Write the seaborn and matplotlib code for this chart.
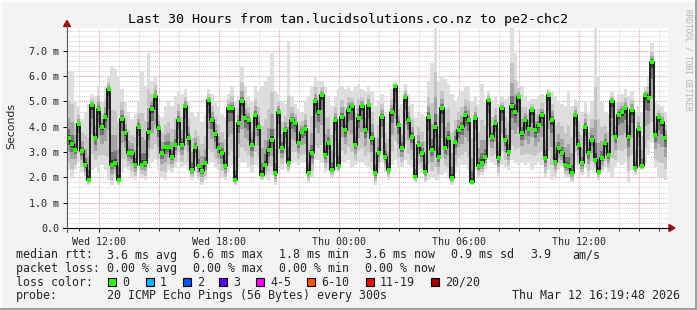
import numpy as np
import pandas as pd
import matplotlib
matplotlib.use("Agg")
import matplotlib.pyplot as plt
import seaborn as sns
from matplotlib.patches import Rectangle, Polygon
from matplotlib.lines import Line2D

# ---------------- data ----------------
start_hour = 10.4          # Wed 10:24, left edge of plot (hours since Wed 00:00)
step_hours = 1.0 / 6.0     # one column = 10 minutes

median_ms = [
    3.55, 3.3, 3.08, 4.1, 3.05, 2.5, 1.9, 4.85, 3.55, 4.7, 4.0, 4.4, 5.5, 2.5, 2.55,
    1.9, 4.3, 3.75, 2.95, 2.95, 2.5, 4.0, 2.5, 2.55, 3.8, 4.7, 5.2, 3.95, 2.95, 3.2,
    3.2, 2.82, 3.28, 4.27, 3.28, 4.8, 3.55, 2.3, 3.2, 2.43, 2.24, 2.55, 5.06, 4.27, 3.7,
    3.15, 2.95, 2.43, 4.73, 4.73, 1.9, 4.14, 5.0, 4.34, 4.27, 3.28, 4.46, 4.0, 2.1, 2.5,
    3.07, 3.48, 2.16, 4.6, 3.15, 3.87, 2.55, 4.27, 4.14, 3.35, 3.8, 3.93, 2.16, 2.95, 5.0,
    4.6, 5.26, 2.89, 3.35, 2.3, 4.27, 2.43, 4.4, 3.87, 4.66, 4.8, 3.28, 4.34, 4.8, 3.87,
    4.86, 3.55, 2.16, 2.95, 4.4, 2.82, 2.3, 4.6, 5.59, 4.07, 3.15, 5.19, 4.27, 3.61, 2.03,
    3.28, 2.95, 2.23, 4.4, 3.07, 4.0, 2.82, 4.73, 3.15, 3.55, 1.96, 3.41, 3.87, 4.0, 4.46,
    4.27, 1.83, 4.34, 2.43, 2.55, 2.82, 5.06, 3.61, 4.14, 2.75, 4.73, 3.48, 3.02, 4.8, 4.6,
    5.19, 3.74, 4.27, 3.93, 4.66, 3.87, 4.07, 4.46, 2.75, 5.26, 4.27, 2.62, 3.15, 2.95, 2.49,
    2.43, 2.16, 4.46, 3.28, 2.55, 4.0, 2.95, 3.48, 2.69, 2.23, 2.75, 3.35, 2.89, 5.0, 3.61,
    4.46, 4.6, 4.73, 3.61, 4.66, 2.36, 3.93, 2.43, 5.26, 5.13, 6.57, 3.68, 4.4, 4.2, 3.55,
]

smoke_low_ms = [
    2.3, 2.0, 2.3, 2.6, 2.2, 1.9, 1.7, 2.3, 2.4, 2.2, 2.5, 2.3, 1.9, 1.7, 2.0,
    1.7, 2.2, 2.4, 2.3, 2.0, 1.9, 2.3, 2.0, 1.9, 2.4, 2.6, 2.7, 2.3, 2.0, 1.9,
    2.3, 2.2, 2.4, 2.6, 2.4, 2.5, 2.3, 1.9, 2.2, 1.9, 1.7, 1.9, 2.5, 2.6, 2.4,
    2.3, 2.0, 1.9, 2.2, 2.5, 1.7, 2.3, 2.6, 2.6, 2.4, 2.2, 2.5, 2.4, 1.9, 2.0,
    1.9, 2.1, 1.7, 2.4, 2.3, 2.6, 2.2, 2.6, 2.6, 2.5, 2.6, 2.6, 1.8, 2.0, 2.7,
    2.7, 2.6, 2.2, 2.3, 2.0, 2.3, 2.2, 2.6, 2.6, 2.7, 2.4, 2.5, 2.6, 2.6, 2.5,
    2.4, 2.3, 1.7, 2.2, 2.6, 2.2, 1.9, 2.5, 2.7, 2.4, 2.4, 2.7, 2.5, 2.4, 1.8,
    2.3, 2.2, 1.8, 1.9, 2.0, 1.9, 1.9, 2.1, 2.2, 2.0, 1.7, 2.2, 2.4, 2.5, 2.5,
    2.3, 1.7, 2.3, 2.0, 2.1, 2.3, 2.7, 2.6, 2.5, 2.0, 2.5, 2.4, 2.3, 2.7, 2.6,
    2.5, 2.6, 2.5, 2.6, 2.3, 2.5, 2.6, 2.5, 2.0, 2.3, 1.9, 2.0, 2.3, 2.4, 2.0,
    2.0, 1.8, 2.5, 2.3, 2.1, 2.4, 2.0, 2.3, 2.3, 1.9, 2.2, 2.4, 2.2, 2.0, 2.4,
    2.6, 2.5, 2.6, 1.8, 2.3, 2.1, 2.4, 2.3, 2.5, 2.9, 3.4, 2.4, 2.0, 2.0, 1.9,
]

smoke_high_ms = [
    6.2, 6.2, 5.0, 4.8, 4.3, 4.6, 4.9, 5.3, 5.2, 5.6, 5.0, 5.6, 6.0, 6.4, 6.3,
    6.0, 5.5, 5.0, 4.6, 4.3, 4.5, 5.0, 6.2, 5.6, 6.9, 5.8, 6.0, 4.9, 4.4, 4.8,
    5.0, 4.8, 5.2, 5.4, 5.3, 5.5, 5.0, 4.6, 4.4, 4.6, 4.2, 4.5, 5.5, 5.3, 5.0,
    4.8, 4.5, 4.4, 5.3, 5.6, 5.0, 5.2, 6.4, 5.6, 5.2, 5.0, 5.6, 5.4, 5.6, 5.8,
    6.0, 6.9, 5.4, 5.3, 5.0, 4.9, 7.4, 5.2, 4.9, 4.7, 4.6, 5.0, 5.2, 5.6, 6.0,
    5.8, 5.8, 5.6, 5.2, 4.8, 5.2, 5.5, 5.6, 5.5, 5.6, 5.4, 5.6, 5.7, 5.5, 5.4,
    5.6, 5.4, 4.8, 5.0, 5.3, 4.6, 4.5, 5.5, 5.8, 5.2, 4.9, 5.7, 5.3, 4.9, 4.4,
    4.6, 4.5, 4.4, 5.8, 6.5, 7.9, 5.8, 6.0, 5.9, 5.7, 5.3, 5.0, 5.2, 5.4, 5.6,
    5.6, 5.0, 5.2, 4.9, 5.7, 5.0, 5.4, 5.0, 5.2, 4.9, 5.2, 5.1, 5.2, 7.9, 6.9,
    5.8, 5.6, 5.2, 5.0, 5.1, 5.1, 5.2, 5.3, 5.2, 5.5, 5.4, 5.2, 5.0, 4.9, 4.8,
    5.4, 4.8, 5.1, 5.0, 4.6, 5.0, 4.5, 5.0, 7.9, 6.0, 5.0, 4.6, 4.5, 5.4, 5.0,
    5.3, 5.3, 5.5, 5.2, 5.4, 4.6, 4.8, 4.6, 5.6, 6.0, 7.3, 5.0, 4.9, 4.8, 4.6,
]

y_ticks = [0, 1, 2, 3, 4, 5, 6, 7]
y_tick_labels = ["0.0", "1.0 m", "2.0 m", "3.0 m", "4.0 m", "5.0 m", "6.0 m", "7.0 m"]
x_ticks = [12, 18, 24, 30, 36]
x_tick_labels = ["Wed 12:00", "Wed 18:00", "Thu 00:00", "Thu 06:00", "Thu 12:00"]

title = "Last 30 Hours from tan.lucidsolutions.co.nz to pe2-chc2"
rtt_label = "median rtt:"
rtt_parts = ["3.6 ms avg", "6.6 ms max", "1.8 ms min", "3.6 ms now", "0.9 ms sd", "3.9", "am/s"]
loss_label = "packet loss:"
loss_parts = ["0.00 % avg", "0.00 % max", "0.00 % min", "0.00 % now"]
color_label = "loss color:"
loss_names = ["0", "1", "2", "3", "4-5", "6-10", "11-19", "20/20"]
loss_colors = ["#26ff00", "#00b8ff", "#0059ff", "#5e00ff", "#ff00ff", "#ff5500", "#ff0000", "#a10000"]
probe_label = "probe:"
probe_text = "20 ICMP Echo Pings (56 Bytes) every 300s"
stamp_text = "Thu Mar 12 16:19:48 2026"

# ---------------- figure ----------------
W, H = 697, 310
def fx(x):
    return x / W
def fy(y):
    return 1 - y / H

sns.set_style("white")
plt.rcParams["font.family"] = ["DejaVu Sans"]
MONO = "DejaVu Sans Mono"

fig = plt.figure(figsize=(W / 100, H / 100), dpi=100, facecolor="#f3f3f3")
ax = fig.add_axes([fx(67), fy(228), 601 / W, 200 / H])
ax.set_facecolor("white")

t_center = start_hour + (np.arange(len(median_ms)) + 0.5) * step_hours
med = np.array(median_ms)
lo = np.array(smoke_low_ms)
hi = np.array(smoke_high_ms)
df = pd.DataFrame({"t": t_center, "median": med})

xmin, xmax = start_hour, start_hour + 601 / 20.0
ax.set_xlim(xmin, xmax)
ax.set_ylim(0, 7.9)

# grid (dotted, rrdtool style)
dot = (0, (1, 1))
for h in np.arange(11, 41):
    c = "#e39a9a" if h % 3 == 0 else "#d4d4d4"
    ax.axvline(h, color=c, lw=0.75, ls=dot, zorder=0.5)
for v in np.arange(0.2, 7.9, 0.2):
    isint = abs(v - round(v)) < 1e-6
    ax.axhline(v, color="#e39a9a" if isint else "#d4d4d4", lw=0.75, ls=dot, zorder=0.5)

# smoke
w = step_hours
bands = [
    (1.00, 1.00, "#dedede"),
    (0.75, 0.55, "#c6c6c6"),
    (0.45, 0.30, "#a4a4a4"),
    (0.22, 0.13, "#747474"),
    (0.08, 0.05, "#3c3c3c"),
]
for fl, fh, col in bands:
    b = med - fl * (med - lo)
    tp = med + fh * (hi - med)
    ax.bar(t_center, tp - b, bottom=b, width=w, color=col, linewidth=0,
           antialiased=False, zorder=1)

# median line + loss-colored points
sns.lineplot(data=df, x="t", y="median", ax=ax, color="#111111", lw=1.3,
             drawstyle="steps-mid", zorder=3)
sns.scatterplot(data=df, x="t", y="median", ax=ax, color=loss_colors[0], marker="s",
                s=7, linewidth=0, zorder=4)

ax.set_xlabel("")
ax.set_ylabel("")
for s in ax.spines.values():
    s.set_visible(False)

ax.set_yticks(y_ticks)
ax.set_yticklabels(y_tick_labels, family=MONO, fontsize=7.2)
ax.set_xticks(x_ticks)
ax.set_xticklabels(x_tick_labels, family=MONO, fontsize=7.2)
ax.set_xticks(np.arange(11, 41), minor=True)
ax.tick_params(axis="y", length=3, width=0.7, color="black", pad=2.5, direction="out", left=True)
ax.tick_params(axis="x", which="major", length=3, width=0.7, color="black", pad=3.5,
               direction="out", bottom=True)
ax.tick_params(axis="x", which="minor", length=2, width=0.6, color="black", direction="out",
               bottom=True)

# axes lines with arrows
fig.add_artist(Line2D([fx(63), fx(670)], [fy(228), fy(228)], color="black", lw=0.8))
fig.add_artist(Line2D([fx(67), fx(67)], [fy(232), fy(25)], color="#555555", lw=0.8))
fig.add_artist(Polygon([[fx(669), fy(224.5)], [fx(669), fy(231.5)], [fx(675), fy(228)]],
                       closed=True, color="#a01010", transform=fig.transFigure))
fig.add_artist(Polygon([[fx(63.5), fy(26.5)], [fx(70.5), fy(26.5)], [fx(67), fy(20.5)]],
                       closed=True, color="#a01010", transform=fig.transFigure))

# titles
fig.text(fx(347.5), fy(19), title, family=MONO, fontsize=9.6, ha="center", va="center",
         color="#000000")
fig.text(fx(11), fy(126), "Seconds", fontsize=7.8, rotation=90, ha="center", va="center")
fig.text(fx(688), fy(60), "RRDTOOL / TOBI OETIKER", family=MONO, fontsize=5.6,
         rotation=-90, ha="center", va="center", color="#b4b4b4")

# legend / info lines
fs = 8.4
row_y = [255, 268.3, 282.3, 295.7]
fig.text(fx(16), fy(row_y[0]), rtt_label, family=MONO, fontsize=fs, va="center")
for txt, x in zip(rtt_parts, [107, 193, 279, 365, 451, 530, 572]):
    fig.text(fx(x), fy(row_y[0]), txt, family=MONO, fontsize=fs, va="center")
fig.text(fx(16), fy(row_y[1]), loss_label, family=MONO, fontsize=fs, va="center")
for txt, x in zip(loss_parts, [107, 193, 279, 365]):
    fig.text(fx(x), fy(row_y[1]), txt, family=MONO, fontsize=fs, va="center")
fig.text(fx(16), fy(row_y[2]), color_label, family=MONO, fontsize=fs, va="center")
for name, col, x in zip(loss_names, loss_colors, [108, 146, 183, 219, 256, 307, 366, 431]):
    fig.add_artist(Rectangle((fx(x), fy(row_y[2] + 4)), 8 / W, 8 / H, facecolor=col,
                             edgecolor="black", lw=0.8, transform=fig.transFigure))
    fig.text(fx(x + 14), fy(row_y[2]), name, family=MONO, fontsize=fs, va="center")
fig.text(fx(16), fy(row_y[3]), probe_label, family=MONO, fontsize=fs, va="center")
fig.text(fx(107), fy(row_y[3]), probe_text, family=MONO, fontsize=fs, va="center")
fig.text(fx(680), fy(row_y[3]), stamp_text, family=MONO, fontsize=fs, va="center", ha="right")

# outer frame (3d border)
fig.add_artist(Rectangle((0, 0), 1, 2.5 / H, facecolor="#a0a0a0", lw=0, transform=fig.transFigure))
fig.add_artist(Rectangle((1 - 2.5 / W, 0), 2.5 / W, 1, facecolor="#a0a0a0", lw=0,
                         transform=fig.transFigure))
fig.add_artist(Rectangle((0, 1 - 1.5 / H), 1 - 2.5 / W, 1.5 / H, facecolor="#fcfcfc", lw=0,
                         transform=fig.transFigure))
fig.add_artist(Rectangle((0, 2.5 / H), 1.5 / W, 1, facecolor="#fcfcfc", lw=0,
                         transform=fig.transFigure))

fig.savefig("out.png", dpi=100, facecolor=fig.get_facecolor())
